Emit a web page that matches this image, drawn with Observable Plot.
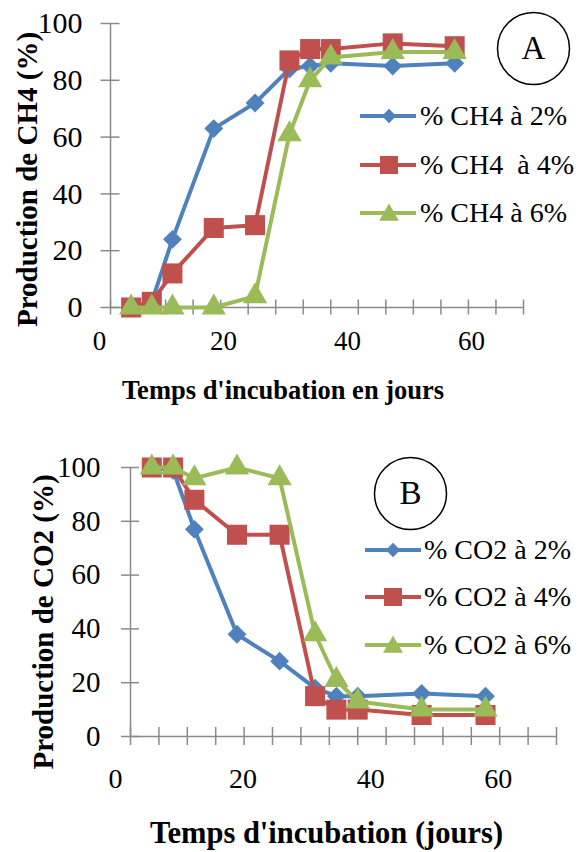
<!DOCTYPE html>
<html>
<head>
<meta charset="utf-8">
<script src="https://cdn.jsdelivr.net/npm/d3@7"></script>
<script src="https://cdn.jsdelivr.net/npm/@observablehq/plot@0.6"></script>
<style>
  body { margin: 0; background: #fff; }
  #root { position: relative; width: 582px; height: 852px; overflow: hidden; background: #fff;
          font-family: "Liberation Serif", "Tinos", "DejaVu Serif", serif; color: #000; }
  #root svg.plot { position: absolute; left: 0; }
  .lrow { position: absolute; display: flex; align-items: center; height: 40px; white-space: pre; }
  .lrow span { font-size: 28px; line-height: 1; }
</style>
</head>
<body>
<div id="root"></div>
<script>
// ---------- data ----------
const days = [3, 6, 9, 15, 21, 26, 29, 32, 41, 50];

const ch4Names = ["% CH4 à 2%", "% CH4  à 4%", "% CH4 à 6%"];
const ch4At2 = [0, 2, 24, 63, 72, 84, 85, 86, 85, 86];
const ch4At4 = [0, 2, 12, 28, 29, 87, 91, 91, 93, 92];
const ch4At6 = [0, 0, 0, 0, 4, 61, 80, 88, 90, 90];

const co2Names = ["% CO2 à 2%", "% CO2 à 4%", "% CO2 à 6%"];
const co2At2 = [100, 99, 77, 38, 28, 18, 15, 15, 16, 15];
const co2At4 = [100, 100, 88, 75, 75, 15, 10, 10, 8, 8];
const co2At6 = [100, 100, 96, 100, 96, 38, 21, 13, 10, 10];

const xTickValues = [0, 4, 8, 12, 16, 20, 24, 28, 32, 36, 40, 44, 48, 52, 56, 60];
const xLabelValues = [0, 20, 40, 60];
const yTickValues = [0, 20, 40, 60, 80, 100];

const titleA = { y: "Production de CH4 (%)", x: "Temps d'incubation en jours", badge: "A" };
const titleB = { y: "Production de CO2 (%)", x: "Temps d'incubation (jours)", badge: "B" };

// ---------- styles ----------
const axisColor = "#8a8a8a";
const fontStack = "'Liberation Serif', 'Tinos', 'DejaVu Serif', serif";
const seriesStyle = [
  { color: "#4F81BD", symbol: "diamond2", r: 8.5, legendSize: 130, d3sym: d3.symbolDiamond2 },
  { color: "#C0504D", symbol: "square", r: 11.3, legendSize: 324, d3sym: d3.symbolSquare },
  { color: "#9BBB59", symbol: "triangle", r: 9, legendSize: 170, d3sym: d3.symbolTriangle }
];

function makePanel(cfg) {
  const L = cfg.layout;
  const seriesMarks = cfg.values.flatMap((vals, k) => {
    const data = days.map((d, i) => ({ day: d, value: vals[i] }));
    const st = seriesStyle[k];
    return [
      Plot.line(data, { x: "day", y: "value", stroke: st.color, strokeWidth: 4, strokeLinejoin: "round" }),
      Plot.dot(data, { x: "day", y: "value", symbol: st.symbol, r: st.r, fill: st.color, stroke: "none" })
    ];
  });
  const svg = Plot.plot({
    width: 582,
    height: L.height,
    marginLeft: L.ml, marginRight: L.mr, marginTop: L.mt, marginBottom: L.mb,
    x: { domain: [0, 60], label: null },
    y: { domain: [0, 100], label: null },
    style: { fontFamily: fontStack, color: "#000", background: "transparent", overflow: "visible" },
    marks: [
      Plot.ruleY([0], { stroke: axisColor, strokeWidth: 1.5 }),
      Plot.ruleX([0], { stroke: axisColor, strokeWidth: 1.5 }),
      Plot.axisX(xTickValues, { tickSize: L.xTickSize, dy: -L.xTickSize / 2, fill: "none", stroke: axisColor, strokeWidth: 1.5, label: null }),
      ...xLabelValues.map(v => Plot.axisX([v], { tickSize: 0, stroke: "none", tickPadding: L.xLabelPad, dx: L.xLabelShift(v), fontSize: L.xTickFont, label: null })),
      Plot.axisY(yTickValues, { tickSize: L.yTickSize, dx: L.yTickSize / 2, fill: "none", stroke: axisColor, strokeWidth: 1.5, label: null }),
      Plot.axisY(yTickValues, { tickSize: 0, stroke: "none", tickPadding: L.yLabelPad, fontSize: L.yTickFont, label: null }),
      ...seriesMarks,
      Plot.text([cfg.titles.y], { text: d => d, frameAnchor: "left", textAnchor: "middle", lineAnchor: "middle", rotate: -90, dx: L.yTitleDx, dy: L.yTitleDy, fontWeight: "bold", fontSize: L.yTitleFont }),
      Plot.text([cfg.titles.x], { text: d => d, frameAnchor: "bottom", textAnchor: "middle", lineAnchor: "middle", dx: L.xTitleDx, dy: L.xTitleDy, fontWeight: "bold", fontSize: L.xTitleFont }),
      Plot.dot([cfg.titles.badge], { frameAnchor: "top-right", r: 36, stroke: "#000", strokeWidth: 1.5, fill: "#fff", dx: L.badgeDx, dy: L.badgeDy }),
      Plot.text([cfg.titles.badge], { text: d => d, frameAnchor: "top-right", textAnchor: "middle", lineAnchor: "middle", dx: L.badgeDx, dy: L.badgeDy, fontSize: 33 })
    ]
  });
  svg.classList.add("plot");
  svg.style.top = L.top + "px";
  return svg;
}

function makeLegend(root, names, lg) {
  names.forEach((name, k) => {
    const st = seriesStyle[k];
    const row = document.createElement("div");
    row.className = "lrow";
    row.style.left = lg.left + "px";
    row.style.top = (lg.rows[k] - 20) + "px";
    const sw = d3.create("svg").attr("width", lg.swatchW).attr("height", 40);
    sw.append("line").attr("x1", 0).attr("x2", lg.swatchW).attr("y1", 20).attr("y2", 20)
      .attr("stroke", st.color).attr("stroke-width", 4);
    sw.append("path").attr("d", d3.symbol(st.d3sym, st.legendSize)())
      .attr("transform", `translate(${lg.markerX},${20 + (k === 2 ? 2 : 0)})`).attr("fill", st.color);
    row.appendChild(sw.node());
    const span = document.createElement("span");
    span.textContent = name;
    span.style.marginLeft = lg.gap + "px";
    row.appendChild(span);
    root.appendChild(row);
  });
}

const root = document.getElementById("root");

root.appendChild(makePanel({
  values: [ch4At2, ch4At4, ch4At6],
  titles: titleA,
  layout: {
    top: 0, height: 420, ml: 110, mr: 59, mt: 23, mb: 113,
    xTickSize: 15, xLabelPad: 23, xLabelShift: v => -11 - 0.683 * v, xTickFont: 27,
    yTickSize: 19, yLabelPad: 28, yTickFont: 30,
    yTitleDx: -83, yTitleDy: 14, yTitleFont: 29,
    xTitleDx: -34, xTitleDy: 83, xTitleFont: 26.5,
    badgeDx: 10, badgeDy: 25
  }
}));

root.appendChild(makePanel({
  values: [co2At2, co2At4, co2At6],
  titles: titleB,
  layout: {
    top: 420, height: 432, ml: 130, mr: 26, mt: 47, mb: 116,
    xTickSize: 18, xLabelPad: 32, xLabelShift: v => -15 - 0.72 * v, xTickFont: 28,
    yTickSize: 18, yLabelPad: 30, yTickFont: 29,
    yTitleDx: -87, yTitleDy: 20, yTitleFont: 29,
    xTitleDx: -17, xTitleDy: 97, xTitleFont: 30.5,
    badgeDx: -146, badgeDy: 26
  }
}));

makeLegend(root, ch4Names, { left: 360, rows: [116, 165, 213], swatchW: 56, markerX: 29, gap: 4 });
makeLegend(root, co2Names, { left: 365, rows: [550, 597, 645], swatchW: 56, markerX: 28, gap: 3 });
</script>
</body>
</html>
